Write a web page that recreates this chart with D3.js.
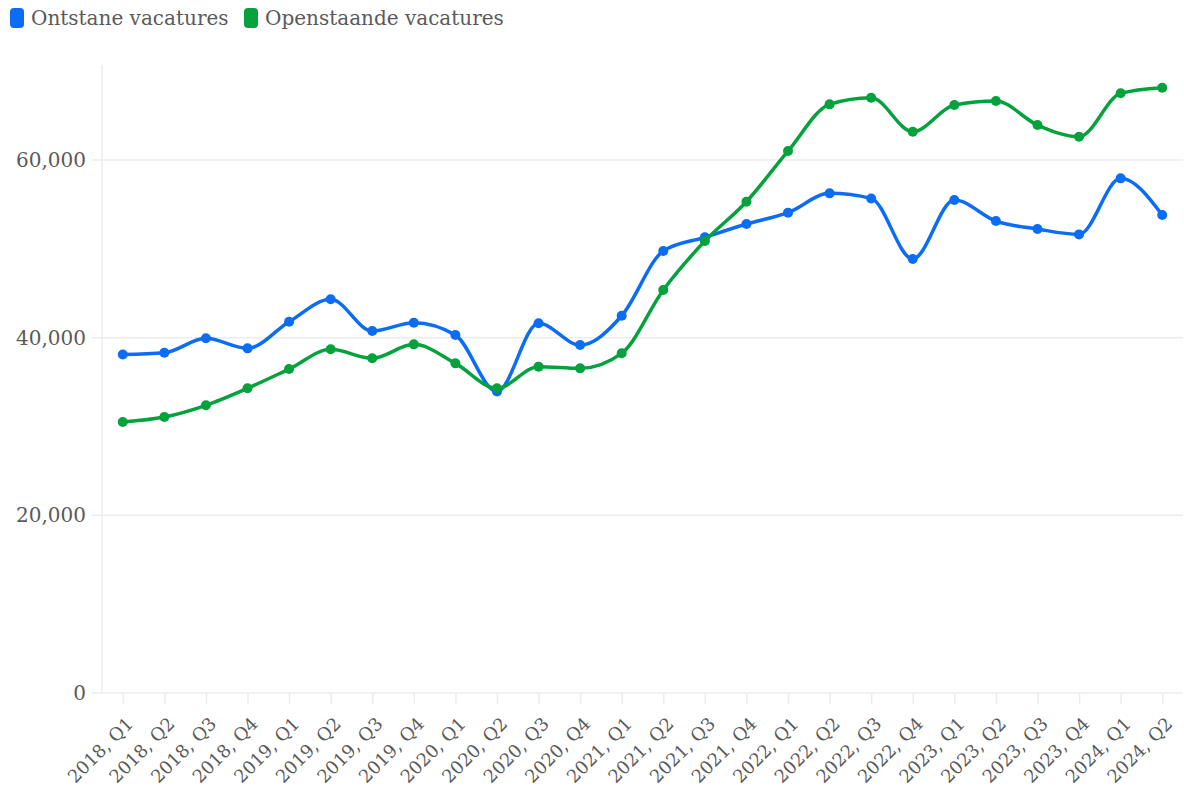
<!DOCTYPE html>
<html>
<head>
<meta charset="utf-8">
<script src="https://cdn.jsdelivr.net/npm/d3@7"></script>
<style>
  body { margin: 0; background: #fff; }
  svg text { font-family: "DejaVu Serif", serif; fill: #5a5a5a; }
</style>
</head>
<body>
<svg id="chart" width="1184" height="787"></svg>
<script>
const quarters = [
  '2018, Q1', '2018, Q2', '2018, Q3', '2018, Q4',
  '2019, Q1', '2019, Q2', '2019, Q3', '2019, Q4',
  '2020, Q1', '2020, Q2', '2020, Q3', '2020, Q4',
  '2021, Q1', '2021, Q2', '2021, Q3', '2021, Q4',
  '2022, Q1', '2022, Q2', '2022, Q3', '2022, Q4',
  '2023, Q1', '2023, Q2', '2023, Q3', '2023, Q4',
  '2024, Q1', '2024, Q2'
];
const ontstane = [
  38100, 38300, 39930, 38800, 41800, 44320, 40750, 41690,
  40300, 33950, 41620, 39170, 42470, 49760, 51300, 52800,
  54080, 56250, 55680, 48860, 55500, 53130, 52230, 51630,
  57940, 53810
];
const openstaande = [
  30510, 31070, 32390, 34300, 36470, 38690, 37680, 39250,
  37110, 34300, 36740, 36550, 38240, 45370, 50880, 55310,
  61010, 66270, 67010, 63190, 66190, 66640, 63940, 62620,
  67510, 68140
];
const yTicks = [0, 20000, 40000, 60000];
const seriesNames = ['Ontstane vacatures', 'Openstaande vacatures'];
const seriesColors = ['#0b6cf5', '#03a23c'];

const svg = d3.select('#chart');
const margin = { top: 65, right: 1, bottom: 94, left: 102 };
const width = 1184 - margin.left - margin.right;
const height = 787 - margin.top - margin.bottom;

const x = d3.scalePoint().domain(quarters).range([0, width]).padding(0.5);
const y = d3.scaleLinear().domain([0, 70700]).range([height, 0]);

const g = svg.append('g').attr('transform', `translate(${margin.left},${margin.top})`);

// grid + y labels
g.selectAll('.grid').data(yTicks).join('line')
  .attr('x1', -10).attr('x2', width)
  .attr('y1', d => y(d)).attr('y2', d => y(d))
  .attr('stroke', '#ececec').attr('stroke-width', 1.5);

g.selectAll('.ylab').data(yTicks).join('text')
  .attr('x', -16).attr('y', d => y(d)).attr('dy', '0.35em')
  .attr('text-anchor', 'end').style('font-size', '20px')
  .text(d => d3.format(',')(d));

// y axis line
g.append('line').attr('x1', 0).attr('x2', 0).attr('y1', 0).attr('y2', height)
  .attr('stroke', '#ececec').attr('stroke-width', 1.5);

// x axis
const xAxis = g.append('g').attr('transform', `translate(0,${height})`)
  .call(d3.axisBottom(x).tickSize(11));
xAxis.select('.domain').remove();
xAxis.selectAll('.tick line').attr('stroke', '#ececec').attr('stroke-width', 1.5);
xAxis.selectAll('.tick text')
  .attr('fill', '#5a5a5a')
  .attr('x', 0).attr('y', 0).attr('dy', 0)
  .style('font-size', '18px')
  .attr('text-anchor', 'end')
  .attr('transform', 'translate(11,32) rotate(-45)');

// lines
const line = d3.line()
  .x((d, i) => x(quarters[i]))
  .y(d => y(d))
  .curve(d3.curveMonotoneX);

[ontstane, openstaande].forEach((vals, s) => {
  g.append('path').datum(vals)
    .attr('d', line)
    .attr('fill', 'none')
    .attr('stroke', seriesColors[s])
    .attr('stroke-width', 3.5)
    .attr('stroke-linejoin', 'round');
  g.selectAll('.dot' + s).data(vals).join('circle')
    .attr('cx', (d, i) => x(quarters[i]))
    .attr('cy', d => y(d))
    .attr('r', 5)
    .attr('fill', seriesColors[s]);
});

// legend
const legendX = [10, 244];
seriesNames.forEach((name, i) => {
  svg.append('rect')
    .attr('x', legendX[i]).attr('y', 8)
    .attr('width', 14).attr('height', 20).attr('rx', 4)
    .attr('fill', seriesColors[i]);
  svg.append('text')
    .attr('x', legendX[i] + 21).attr('y', 25)
    .style('font-size', '20px')
    .text(name);
});
</script>
</body>
</html>
